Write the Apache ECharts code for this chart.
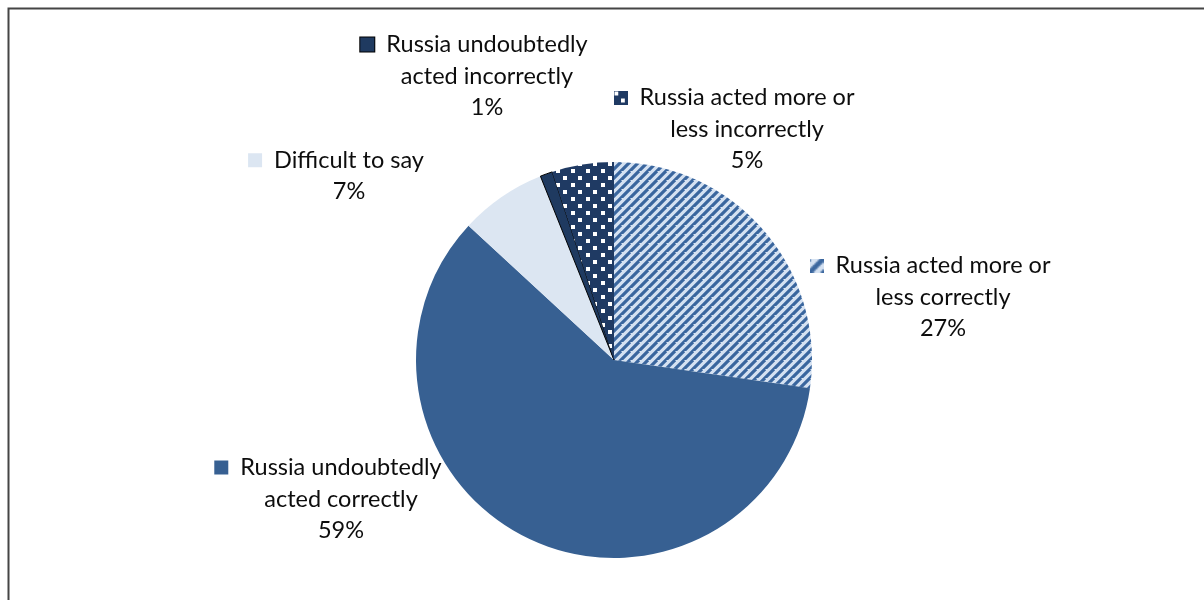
<!DOCTYPE html>
<html>
<head>
<meta charset="utf-8">
<script src="https://cdn.jsdelivr.net/npm/echarts@6/dist/echarts.min.js"></script>
<style>
  html, body { margin: 0; padding: 0; background: #fff; }
  #chart { width: 1204px; height: 600px; }
</style>
</head>
<body>
<div id="chart"></div>
<script>
// Survey answers, clockwise from 12 o'clock
const categories = [
  'Russia acted more or\nless correctly',
  'Russia undoubtedly\nacted correctly',
  'Difficult to say',
  'Russia undoubtedly\nacted incorrectly',
  'Russia acted more or\nless incorrectly'
];
const shares = [27, 59, 7, 1, 5];

// Where each label block sits (centre x, middle y)
const labelSpots = [
  [943, 297],
  [341, 499],
  [349, 176],
  [487, 76],
  [747, 129]
];

function stripeTile() {
  const n = 9;
  const c = document.createElement('canvas');
  c.width = n; c.height = n;
  const g = c.getContext('2d');
  g.fillStyle = '#d5e2f2';
  g.fillRect(0, 0, n, n);
  g.strokeStyle = '#3a669e';
  g.lineWidth = 3.2;
  g.beginPath();
  for (let k = -n; k <= 2 * n; k += n) {
    g.moveTo(k - n, 2 * n); g.lineTo(k + n, 0);
  }
  g.stroke();
  return c;
}

function dotTile() {
  const c = document.createElement('canvas');
  c.width = 15; c.height = 14;
  const g = c.getContext('2d');
  g.fillStyle = '#1f3a63';
  g.fillRect(0, 0, 15, 14);
  g.fillStyle = '#ffffff';
  g.fillRect(1, 1, 4, 4);
  g.fillRect(8, 8, 4, 4);
  return c;
}

const stripes = { image: stripeTile(), repeat: 'repeat' };
const dots = { image: dotTile(), repeat: 'repeat' };

const fills = [stripes, '#376092', '#dce6f2', '#1f3a60', dots];

const FONT = 'Lato';

const rich = { t: { fontFamily: FONT, fontSize: 23.5, color: '#0d0d0d', lineHeight: 31.5 },
               s: { width: 12, height: 14 },
               p: { width: 26, height: 14 } };
fills.forEach((f, i) => {
  rich['k' + i] = { width: 14, height: 14, backgroundColor: f,
                    borderColor: i === 3 ? '#000' : 'transparent', borderWidth: i === 3 ? 1 : 0 };
});

const data = categories.map((name, i) => ({
  name,
  value: shares[i],
  itemStyle: {
    color: fills[i],
    borderColor: i === 3 ? '#000' : 'transparent',
    borderWidth: i === 3 ? 1 : 0
  }
}));

const chart = echarts.init(document.getElementById('chart'), null, { renderer: 'canvas' });
chart.setOption({
  animation: false,
  backgroundColor: '#fff',
  graphic: [{
    type: 'polyline',
    shape: { points: [[8.5, 600], [8.5, 8.5], [1204, 8.5]] },
    style: { stroke: '#454545', lineWidth: 2, fill: null }
  }],
  series: [{
    type: 'pie',
    center: [614, 360],
    radius: 198,
    startAngle: 90,
    clockwise: true,
    data,
    labelLine: { show: false },
    label: {
      show: true,
      position: 'outside',
      align: 'center',
      formatter: (p) => {
        const lines = p.name.split('\n');
        const first = '{k' + p.dataIndex + '| }{s| }{t|' + lines[0] + '}{p| }';
        const rest = lines.slice(1).map(l => '{t|' + l + '}');
        return [first].concat(rest).concat(['{t|' + p.value + '%}']).join('\n');
      },
      rich
    },
    labelLayout: (params) => {
      const spot = labelSpots[params.dataIndex];
      return { x: spot[0], y: spot[1], align: 'center', verticalAlign: 'middle', hideOverlap: false };
    },
    emphasis: { disabled: true }
  }]
});
</script>
</body>
</html>
